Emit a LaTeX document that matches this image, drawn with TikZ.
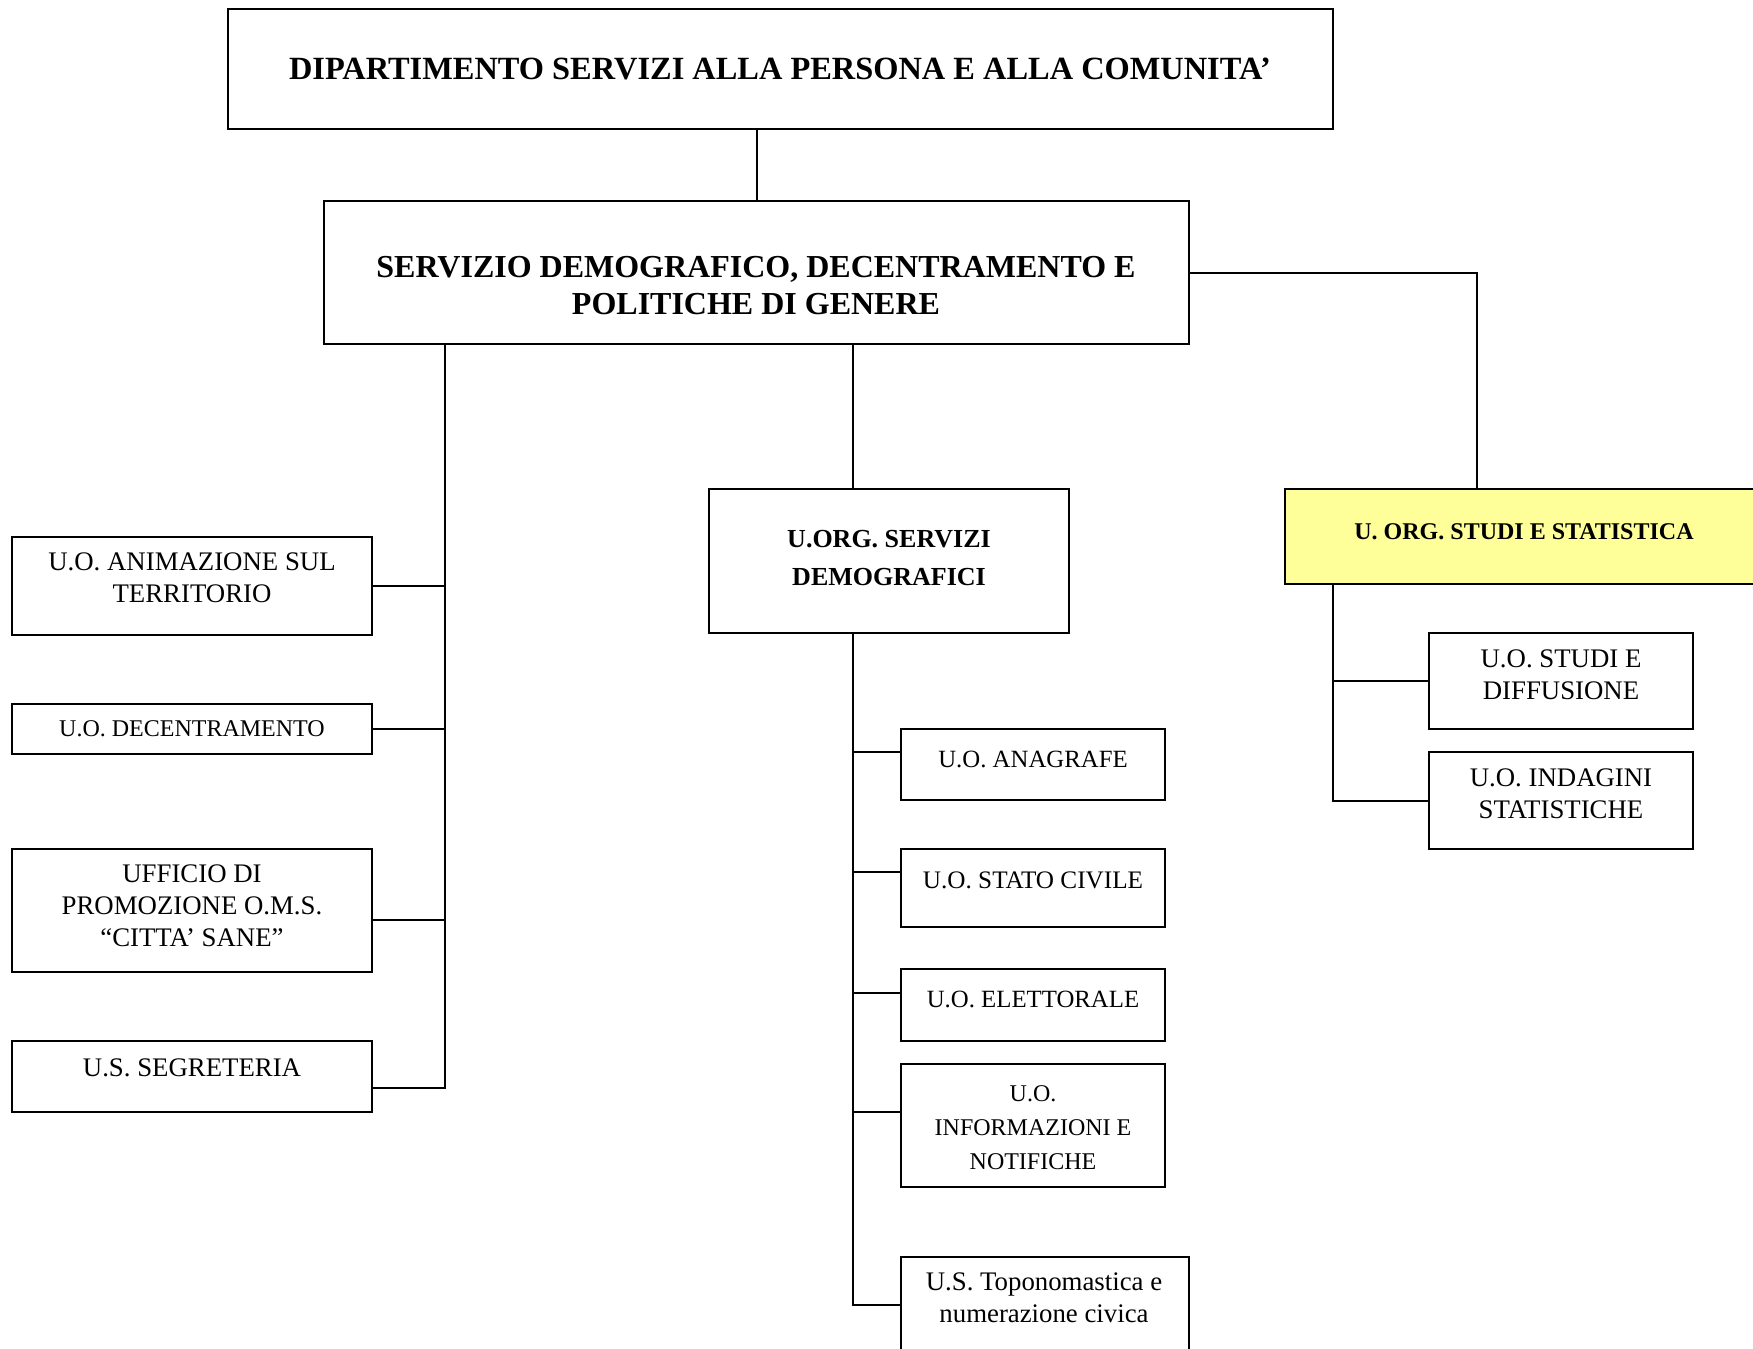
\documentclass[tikz,border=0pt]{standalone}
\usepackage{fontspec}
\setmainfont{Liberation Serif}
\usetikzlibrary{fit}
\definecolor{ylw}{RGB}{255,255,153}
\tikzset{
  box/.style={draw, line width=1pt, inner sep=0pt, fill=white},
  ybox/.style={box, fill=ylw},
  reg/.style={font=\fontsize{12}{16}\selectfont, align=center, inner sep=0pt},
  regl/.style={font=\fontsize{13.4}{16}\selectfont, align=center, inner sep=0pt},
  bigb/.style={font=\fontsize{16}{18.5}\selectfont\bfseries, align=center, inner sep=0pt},
  midb/.style={font=\fontsize{13}{19}\selectfont\bfseries, align=center, inner sep=0pt},
  smb/.style={font=\fontsize{12}{16}\selectfont\bfseries, align=center, inner sep=0pt},
  conn/.style={draw, line width=1pt}
}
\begin{document}
\begin{tikzpicture}[x=0.5pt,y=-0.5pt]
\useasboundingbox[fill=white] (0,0) rectangle (1753,1349);
% boxes
\node[box, fit={(228,9) (1333,129)}] (top) {};
\node[box, fit={(324,201) (1189,344)}] (serv) {};
\node[box, fit={(12,537) (372,635)}] (anim) {};
\node[box, fit={(12,704) (372,754)}] (dec) {};
\node[box, fit={(12,849) (372,972)}] (uff) {};
\node[box, fit={(12,1041) (372,1112)}] (seg) {};
\node[box, fit={(709,489) (1069,633)}] (uorg) {};
\node[ybox, fit={(1285,489) (1765,584)}] (stat) {};
\node[box, fit={(1429,633) (1693,729)}] (studi) {};
\node[box, fit={(1429,752) (1693,849)}] (indag) {};
\node[box, fit={(901,729) (1165,800)}] (anag) {};
\node[box, fit={(901,849) (1165,927)}] (stciv) {};
\node[box, fit={(901,969) (1165,1041)}] (elet) {};
\node[box, fit={(901,1064) (1165,1187)}] (info) {};
\node[box, fit={(901,1257) (1189,1358)}] (topo) {};
% texts
\node[bigb, font=\fontsize{16.2}{18.5}\selectfont\bfseries] (t-top) at (780,69) {DIPARTIMENTO SERVIZI ALLA PERSONA E ALLA COMUNITA’};
\node[bigb] (t-serv) at (756,286) {SERVIZIO DEMOGRAFICO, DECENTRAMENTO E\\POLITICHE DI GENERE};
\node[midb] (t-uorg) at (889,558) {U.ORG. SERVIZI\\DEMOGRAFICI};
\node[smb] (t-stat) at (1524,532) {U. ORG. STUDI E STATISTICA};
\node[regl] (t-anim) at (192,578) {U.O. ANIMAZIONE SUL\\TERRITORIO};
\node[reg] (t-dec) at (192,729) {U.O. DECENTRAMENTO};
\node[regl] (t-uff) at (192,906) {UFFICIO DI\\PROMOZIONE O.M.S.\\“CITTA’ SANE”};
\node[regl] (t-seg) at (192,1068) {U.S. SEGRETERIA};
\node[reg, font=\fontsize{12.4}{16}\selectfont] (t-anag) at (1033,759) {U.O. ANAGRAFE};
\node[reg, font=\fontsize{12.6}{16}\selectfont] (t-stciv) at (1033,880) {U.O. STATO CIVILE};
\node[reg, font=\fontsize{12.4}{16}\selectfont] (t-elet) at (1033,999) {U.O. ELETTORALE};
\node[reg, font=\fontsize{12}{17}\selectfont] (t-info) at (1033,1128) {U.O.\\INFORMAZIONI E\\NOTIFICHE};
\node[regl] (t-topo) at (1044,1298) {U.S. Toponomastica e\\numerazione civica};
\node[regl] (t-studi) at (1561,675) {U.O. STUDI E\\DIFFUSIONE};
\node[regl] (t-indag) at (1561,794) {U.O. INDAGINI\\STATISTICHE};
% bus coordinates
\coordinate (b1) at (757,0);
\coordinate (r1) at (1477,0);
\coordinate (lb) at (445,0);
\coordinate (mb) at (853,0);
\coordinate (rb) at (1333,0);
\coordinate (cuff) at ([yshift=-4.75pt]uff.east);
\coordinate (cseg) at ([yshift=-5.75pt]seg.east);
\coordinate (canag) at ([yshift=6.25pt]anag.west);
\coordinate (cstciv) at ([yshift=8pt]stciv.west);
\coordinate (celet) at ([yshift=6pt]elet.west);
\coordinate (cinfo) at ([yshift=6.75pt]info.west);
\coordinate (ctopo) at ([yshift=1.25pt]topo.west);
% connectors
\draw[conn] (top.south -| b1) -- (serv.north -| b1);
\draw[conn] (serv.east) -| (stat.north -| r1);
\draw[conn] (serv.south -| lb) |- (cseg);
\draw[conn] (anim.east) -- (anim.east -| lb);
\draw[conn] (dec.east) -- (dec.east -| lb);
\draw[conn] (cuff) -- (cuff -| lb);
\draw[conn] (serv.south -| mb) -- (uorg.north -| mb);
\draw[conn] (uorg.south -| mb) |- (ctopo);
\draw[conn] (canag) -- (canag -| mb);
\draw[conn] (cstciv) -- (cstciv -| mb);
\draw[conn] (celet) -- (celet -| mb);
\draw[conn] (cinfo) -- (cinfo -| mb);
\draw[conn] (stat.south -| rb) |- (indag.west);
\draw[conn] (studi.west) -- (studi.west -| rb);
\end{tikzpicture}
\end{document}
